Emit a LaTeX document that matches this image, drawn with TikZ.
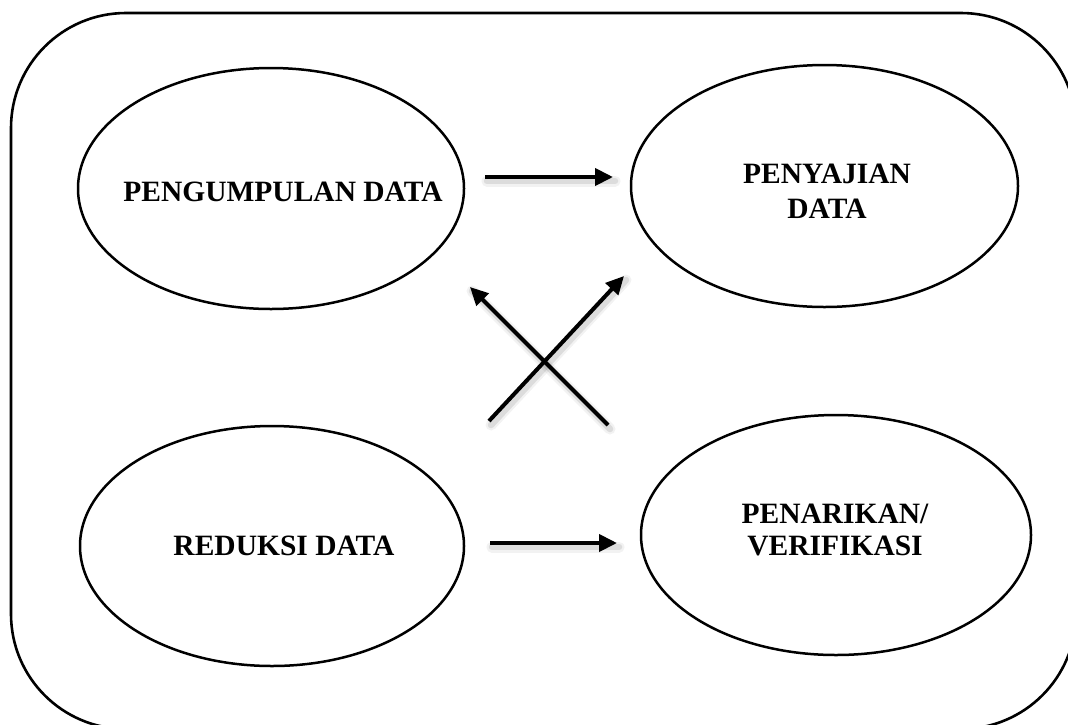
\documentclass[tikz,border=0pt]{standalone}
\usepackage{fontspec}
\setmainfont{Liberation Serif}
\usetikzlibrary{shapes.geometric,arrows.meta}
\begin{document}
\begin{tikzpicture}[x=1pt,y=-1pt,
  oval/.style={draw, ellipse, line width=2.5pt, inner sep=0pt},
  lbl/.style={font=\fontsize{29.5}{35}\selectfont\bfseries, align=center, inner sep=0pt, anchor=base},
  conn/.style={line width=4pt, -{Triangle[length=18pt,width=17pt]}},
  shadeA/.style={line width=11pt, draw=black, opacity=0.05, line cap=round},
  shadeB/.style={line width=6.5pt, draw=black, opacity=0.09, line cap=round}]
\useasboundingbox (0,0) rectangle (1068,724);
\fill[white] (0,0) rectangle (1068,724);
% outer frame
\draw[line width=2.6pt, rounded corners=115pt] (11,13) rectangle (1076,729);
% ellipses
\node[oval, minimum width=386pt, minimum height=241pt] (e1) at (271,188.5) {};
\node[oval, minimum width=387pt, minimum height=242pt] (e2) at (824.5,186) {};
\node[oval, minimum width=384pt, minimum height=240pt] (e3) at (272,546) {};
\node[oval, minimum width=390pt, minimum height=240pt] (e4) at (836,535) {};
% labels
\node[lbl] (t1) at (283,201) {PENGUMPULAN DATA};
\node[lbl] (t2) at (827,218) {PENYAJIAN\\DATA};
\node[lbl] (t3) at (284,555) {REDUKSI DATA};
\node[lbl, font=\fontsize{29.5}{32}\selectfont\bfseries] (t4) at (835,555) {PENARIKAN/\\VERIFIKASI};
% arrow end points
\coordinate (a1s) at (485,177);
\coordinate (a1e) at (613,177);
\coordinate (a2s) at (490,543);
\coordinate (a2e) at (617,543);
\coordinate (a3s) at (608,425);
\coordinate (a3e) at (470,287);
\coordinate (a4s) at (489,421);
\coordinate (a4e) at (624,276);
% shadows
\foreach \s/\e in {a1s/a1e,a2s/a2e,a3s/a3e,a4s/a4e}{
  \draw[shadeA] ([shift={(2,4)}]\s) -- ([shift={(2,4)}]\e);
  \draw[shadeB] ([shift={(2,4)}]\s) -- ([shift={(2,4)}]\e);
}
% arrows
\draw[conn] (a1s) -- (a1e);
\draw[conn] (a2s) -- (a2e);
\draw[conn] (a3s) -- (a3e);
\draw[conn] (a4s) -- (a4e);
\end{tikzpicture}
\end{document}
